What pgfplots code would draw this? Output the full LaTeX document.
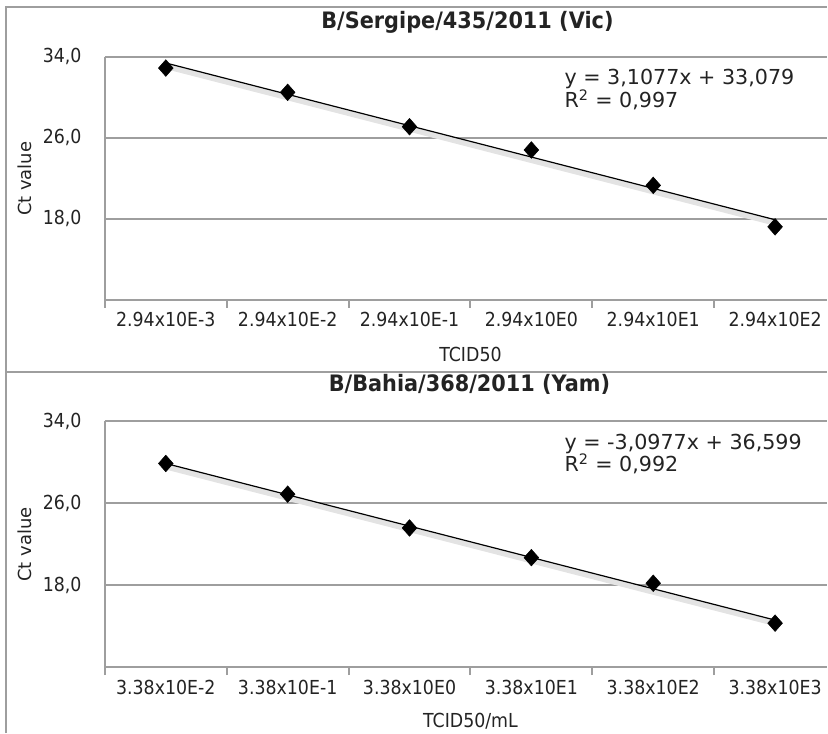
\documentclass[border=0pt]{standalone}
\usepackage{fontspec}
\setmainfont{DejaVu Sans}
\newfontfamily\cond[FakeStretch=0.9]{DejaVu Sans}
\newfontfamily\condb[FakeStretch=0.92]{DejaVu Sans Bold}
\usepackage{pgfplots}
\pgfplotsset{compat=1.18}
\definecolor{gridgray}{RGB}{158,158,158}
\definecolor{txt}{RGB}{35,35,35}
\pgfplotsset{myax/.style={
  scale only axis, width=542.25pt,
  xmin=-0.5, xmax=5.426, ymin=10, ymax=34,
  axis x line*=bottom, axis y line*=left,
  axis line style={gridgray, line width=1.5pt, -},
  ytick={18,26,34}, yticklabels={{18,0},{26,0},{34,0}},
  ymajorgrids, grid style={gridgray, line width=1.5pt},
  major tick length=0pt,
  xtick={0,1,2,3,4,5}, xtick pos=bottom, ytick pos=left,
  extra x ticks={-0.5,0.5,1.5,2.5,3.5,4.5}, extra x tick labels={},
  extra x tick style={major tick length=6pt, tick align=outside,
     major tick style={gridgray, line width=1.5pt}, grid=none},
  tick label style={font=\cond\fontsize{14.5}{16}\selectfont, text=txt},
  xticklabel style={yshift=-6pt},
  yticklabel style={xshift=-14pt},
  clip=false,
}}
\begin{document}
\begin{tikzpicture}
\begin{scope}[x=0.75pt,y=-0.75pt]
\useasboundingbox (0,0) rectangle (828,734);
\draw[gridgray, line width=1.5pt] (6,734) -- (6,7) -- (828,7);
\draw[gridgray, line width=1.5pt] (6,372) -- (828,372);
\node[font=\condb\fontsize{17}{19}\selectfont, text=txt, anchor=base] at (468,29) {B/Sergipe/435/2011 (Vic)};
\node[font=\condb\fontsize{17}{19}\selectfont, text=txt, anchor=base] at (470,392) {B/Bahia/368/2011 (Yam)};
\node[font=\fontsize{13.5}{15}\selectfont, text=txt, rotate=90, anchor=base] at (32,179) {Ct value};
\node[font=\fontsize{13.5}{15}\selectfont, text=txt, rotate=90, anchor=base] at (32,545) {Ct value};
\node[font=\cond\fontsize{14.5}{16}\selectfont, text=txt] at (471,355) {TCID50};
\node[font=\cond\fontsize{14.5}{16}\selectfont, text=txt] at (471,722) {TCID50/mL};
\node[font=\fontsize{15.5}{17}\selectfont, text=txt, anchor=base west, inner sep=0pt] at (565,85) {y = 3,1077x + 33,079};
\node[font=\fontsize{15.5}{17}\selectfont, text=txt, anchor=base west, inner sep=0pt] at (565,108) {R\textsuperscript{2} = 0,997};
\node[font=\fontsize{15.5}{17}\selectfont, text=txt, anchor=base west, inner sep=0pt] at (565,450) {y = -3,0977x + 36,599};
\node[font=\fontsize{15.5}{17}\selectfont, text=txt, anchor=base west, inner sep=0pt] at (565,472) {R\textsuperscript{2} = 0,992};
\end{scope}

\begin{axis}[myax, height=182.25pt, at={(78.75pt,-225pt)}, anchor=south west,
  xticklabels={2.94x10E-3,2.94x10E-2,2.94x10E-1,2.94x10E0,2.94x10E1,2.94x10E2}]
\addplot[gray!22, line width=4pt, yshift=-2.5pt, forget plot] coordinates {(0,33.4) (5,17.9)};
\addplot[black, line width=0.9pt] coordinates {(0,33.4) (5,17.9)};
\addplot[only marks, mark=square*, mark size=3.9pt, mark options={yscale=1.13, rotate=45}, black] coordinates {
(0,32.9) (1,30.5) (2,27.1) (3,24.8) (4,21.3) (5,17.2)};
\end{axis}

\begin{axis}[myax, height=184.5pt, at={(78.75pt,-501pt)}, anchor=south west,
  xticklabels={3.38x10E-2,3.38x10E-1,3.38x10E0,3.38x10E1,3.38x10E2,3.38x10E3}]
\addplot[gray!22, line width=4pt, yshift=-2.5pt, forget plot] coordinates {(0,29.9) (5,14.6)};
\addplot[black, line width=0.9pt] coordinates {(0,29.9) (5,14.6)};
\addplot[only marks, mark=square*, mark size=3.9pt, mark options={yscale=1.13, rotate=45}, black] coordinates {
(0,29.9) (1,26.9) (2,23.6) (3,20.7) (4,18.2) (5,14.3)};
\end{axis}
\end{tikzpicture}
\end{document}
